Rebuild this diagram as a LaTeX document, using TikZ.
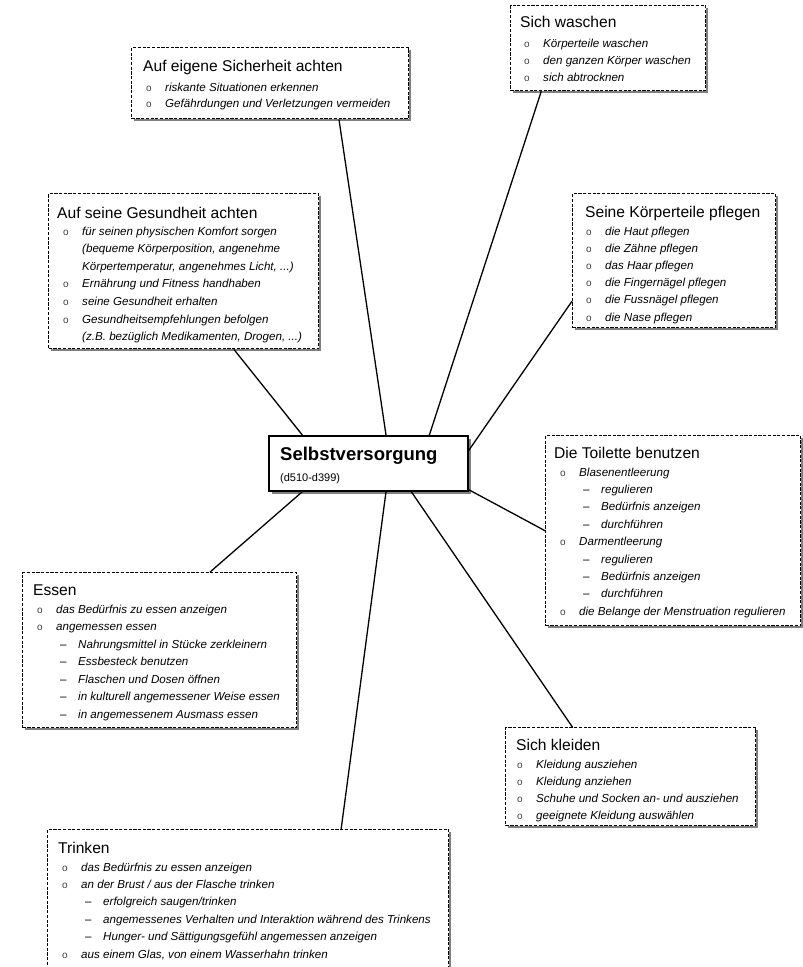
\documentclass[tikz,border=0pt]{standalone}
\usepackage{fontspec}
\setmainfont{Liberation Sans}
\usetikzlibrary{shadows,calc}
\tikzset{
  dbox/.style={draw=black, line width=1.4pt, dash pattern=on 3.2pt off 1.5pt, fill=white,
    inner sep=0pt, anchor=north west,
    drop shadow={shadow xshift=2.6pt, shadow yshift=-2.6pt, fill=black, opacity=0.5}},
  cbox/.style={draw=black, line width=1.7pt, fill=white, inner sep=0pt, anchor=north west,
    drop shadow={shadow xshift=2.8pt, shadow yshift=-2.8pt, fill=black, opacity=0.5}},
  ttl/.style={anchor=base west, inner sep=0pt, font=\fontsize{15.6}{18}\selectfont},
  itm/.style={anchor=base west, inner sep=0pt, font=\fontsize{11.6}{13}\selectfont\itshape},
  conn/.style={draw=black, line width=1.3pt},
}
\newcommand\bul{{\upshape\fontsize{10}{8}\selectfont\color{black!75}o}}
% name, L, T, R, B
\newcommand\mybox[5]{\node[dbox, minimum width={#4-#2}, minimum height={#5-#3}] (#1) at (#2,#3) {};}
% name, x, y, title
\newcommand\mytitle[4]{\node[ttl] (#1-t) at (#2,#3) {#4};}
% name, x, y0, dy, list
\newcommand\myitems[5]{%
  \foreach \lv/\tx [count=\i from 0] in {#5} {
    \node[itm] (#1-\i) at (#2,{#3+\i*#4}) {\ifcase\lv\hspace*{19pt}\tx\or\makebox[19pt][l]{\bul}\tx\or\hspace*{23pt}\makebox[18pt][l]{\upshape –}\tx\fi};
  }}
\begin{document}
\begin{tikzpicture}[x=1pt,y=-1pt]
\useasboundingbox (0,0) rectangle (803,967);

% Auf eigene Sicherheit achten
\mybox{sich}{131}{47}{408}{118}
\mytitle{sich}{143}{71.5}{Auf eigene Sicherheit achten}
\myitems{sich}{146}{91}{16.5}{1/riskante Situationen erkennen, 1/Gefährdungen und Verletzungen vermeiden}

% Sich waschen
\mybox{wasch}{510}{5}{705}{90}
\mytitle{wasch}{520}{27}{Sich waschen}
\myitems{wasch}{524}{47}{17}{1/Körperteile waschen, 1/den ganzen Körper waschen, 1/sich abtrocknen}

% Auf seine Gesundheit achten
\mybox{gesund}{48}{193}{318}{348}
\mytitle{gesund}{57}{218}{Auf seine Gesundheit achten}
\myitems{gesund}{63}{235}{17.6}{1/für seinen physischen Komfort sorgen, 0/{(bequeme Körperposition, angenehme}, 0/{Körpertemperatur, angenehmes Licht, ...)}, 1/Ernährung und Fitness handhaben, 1/seine Gesundheit erhalten, 1/Gesundheitsempfehlungen befolgen, 0/{(z.B. bezüglich Medikamenten, Drogen, ...)}}

% Seine Körperteile pflegen
\mybox{koerper}{572}{193}{775}{327}
\mytitle{koerper}{585}{217}{Seine Körperteile pflegen}
\myitems{koerper}{586}{235}{17.2}{1/die Haut pflegen, 1/die Zähne pflegen, 1/das Haar pflegen, 1/die Fingernägel pflegen, 1/die Fussnägel pflegen, 1/die Nase pflegen}

% Center
\node[cbox, minimum width=199, minimum height=55] (sv) at (268,435) {};
\node[anchor=base west, inner sep=0pt, font=\fontsize{18.5}{20}\selectfont\bfseries] (sv-t) at (280,460) {Selbstversorgung};
\node[anchor=base west, inner sep=0pt, font=\fontsize{11}{13}\selectfont] (sv-s) at (280,481) {(d510-d399)};

% Die Toilette benutzen
\mybox{toil}{545}{435}{800}{625}
\mytitle{toil}{554}{458}{Die Toilette benutzen}
\myitems{toil}{560}{476}{17.4}{1/Blasenentleerung, 2/regulieren, 2/Bedürfnis anzeigen, 2/durchführen, 1/Darmentleerung, 2/regulieren, 2/Bedürfnis anzeigen, 2/durchführen, 1/die Belange der Menstruation regulieren}

% Essen
\mybox{essen}{22}{572}{296}{727}
\mytitle{essen}{33}{595}{Essen}
\myitems{essen}{37}{613}{17.5}{1/das Bedürfnis zu essen anzeigen, 1/angemessen essen, 2/Nahrungsmittel in Stücke zerkleinern, 2/Essbesteck benutzen, 2/Flaschen und Dosen öffnen, 2/in kulturell angemessener Weise essen, 2/in angemessenem Ausmass essen}

% Sich kleiden
\mybox{kleid}{505}{727}{755}{825}
\mytitle{kleid}{516}{750}{Sich kleiden}
\myitems{kleid}{517}{768}{17.3}{1/Kleidung ausziehen, 1/Kleidung anziehen, 1/Schuhe und Socken an- und ausziehen, 1/geeignete Kleidung auswählen}

% Trinken
\mybox{trink}{47}{829}{448}{990}
\mytitle{trink}{58}{853}{Trinken}
\myitems{trink}{62}{871}{17.4}{1/das Bedürfnis zu essen anzeigen, 1/{an der Brust / aus der Flasche trinken}, 2/{erfolgreich saugen/trinken}, 2/angemessenes Verhalten und Interaktion während des Trinkens, 2/Hunger- und Sättigungsgefühl angemessen anzeigen, 1/{aus einem Glas, von einem Wasserhahn trinken}}

% connectors
\draw[conn] ($(sv.north west)!0.588!(sv.north east)$) -- ($(sich.south west)!0.747!(sich.south east)$);
\draw[conn] ($(sv.north west)!0.804!(sv.north east)$) -- ($(wasch.south west)!0.159!(wasch.south east)$);
\draw[conn] ($(sv.north west)!0.171!(sv.north east)$) -- ($(gesund.south west)!0.685!(gesund.south east)$);
\draw[conn] ($(sv.north east)!0.273!(sv.south east)$) -- ($(koerper.north west)!0.799!(koerper.south west)$);
\draw[conn] ($(sv.north east)!0.964!(sv.south east)$) -- ($(toil.north west)!0.5!(toil.south west)$);
\draw[conn] ($(sv.south west)!0.171!(sv.south east)$) -- ($(essen.north west)!0.683!(essen.north east)$);
\draw[conn] ($(sv.south west)!0.714!(sv.south east)$) -- ($(kleid.north west)!0.268!(kleid.north east)$);
\draw[conn] ($(sv.south west)!0.588!(sv.south east)$) -- ($(trink.north west)!0.731!(trink.north east)$);
\end{tikzpicture}
\end{document}
